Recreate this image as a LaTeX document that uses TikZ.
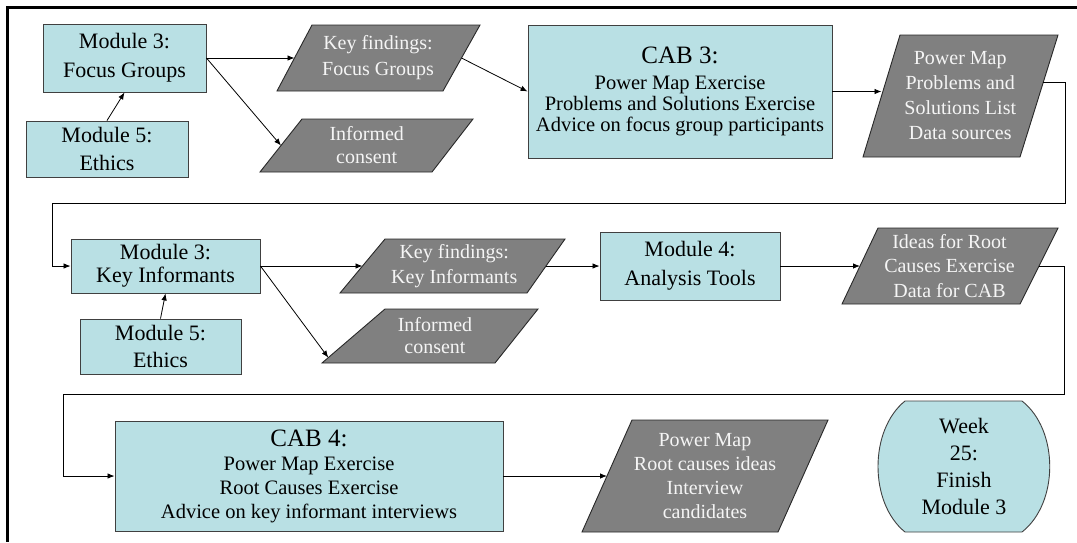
\documentclass[tikz,border=0pt]{standalone}
\usepackage{fontspec}
\setmainfont{Liberation Serif}
\usetikzlibrary{calc,arrows.meta}

\definecolor{boxfill}{RGB}{185,224,228}
\definecolor{boxline}{RGB}{64,64,64}
\definecolor{datafill}{RGB}{128,128,128}
\definecolor{dataline}{RGB}{40,40,40}
\definecolor{datatext}{RGB}{245,245,245}

\tikzset{
  boxlook/.style={draw=boxline, fill=boxfill, line width=0.9pt},
  module/.style={boxlook, inner sep=0pt, align=center, text=black},
  modfont/.style={font=\fontsize{22}{#1}\selectfont},
  plaintext/.style={inner sep=0pt, align=center, text=black},
  datashape/.style={draw=dataline, fill=datafill, line width=0.9pt, line join=miter},
  datalabel/.style={inner sep=0pt, align=center, text=datatext,
    font=\fontsize{20}{#1}\selectfont},
  flow/.style={-{Latex[length=7pt,width=5.5pt]}, line width=0.8pt},
}

% data (parallelogram) shape: name, top-left x, top-right x, bottom-left x,
% bottom-right x, top y, bottom y, line spacing, text
\newcommand\datanode[9]{%
  \coordinate (#1-nw) at (#2,#6);
  \coordinate (#1-ne) at (#3,#6);
  \coordinate (#1-sw) at (#4,#7);
  \coordinate (#1-se) at (#5,#7);
  \draw[datashape] (#1-nw) -- (#1-ne) -- (#1-se) -- (#1-sw) -- cycle;
  \coordinate (#1-w) at ($(#1-nw)!0.5!(#1-sw)$);
  \coordinate (#1-e) at ($(#1-ne)!0.5!(#1-se)$);
  \node[datalabel=#8] (#1) at ($(#1-w)!0.5!(#1-e)$) {#9};
}

\begin{document}
\begin{tikzpicture}[x=1pt, y=-1pt]
\useasboundingbox (0,0) rectangle (1077,542);

% outer frame (top and left edges)
\draw[line width=3pt] (1077,7.5) -- (7.5,7.5) -- (7.5,542);

% ---- row 1: focus groups ----
\node[module, modfont=29, minimum width=163, minimum height=68] (m3fg)
  at (124.5,58) {Module 3:\\Focus Groups};
\node[module, modfont=27.5, minimum width=162, minimum height=56] (m5a)
  at (107,149) {Module 5:\\Ethics};
\datanode{kffg}{312}{480}{277}{443}{25}{91}{26}{Key findings:\\Focus Groups}
\datanode{ic1}{302}{473}{260}{432}{119}{172}{23}{Informed\\consent}
\node[module, minimum width=304, minimum height=133,
  font=\fontsize{20.5}{21}\selectfont] (cab3) at (680,91.5)
  {{\fontsize{25}{28}\selectfont CAB 3:}\\[4.5pt]Power Map Exercise\\
   Problems and Solutions Exercise\\Advice on focus group participants};
\datanode{pm1}{900}{1058}{863}{1020}{35}{157}{25}{Power Map\\Problems and\\Solutions List\\Data sources}

% ---- row 2: key informants ----
\node[module, modfont=23, minimum width=189, minimum height=54] (m3ki)
  at (165.5,266) {Module 3:\\Key Informants};
\node[module, modfont=27, minimum width=161, minimum height=55] (m5b)
  at (160.5,346.5) {Module 5:\\Ethics};
\datanode{kfki}{385}{565}{340}{527}{239}{293}{25}{Key findings:\\Key Informants}
\datanode{ic2}{385}{538}{322}{495}{309}{363}{22}{Informed\\consent}
\node[module, modfont=29, minimum width=180, minimum height=68] (m4)
  at (690,266) {Module 4:\\Analysis Tools};
\datanode{ideas}{878}{1058}{842}{1020}{228}{304}{24.5}{Ideas for Root\\Causes Exercise\\Data for CAB}

% ---- row 3: CAB 4 ----
\node[module, minimum width=388, minimum height=110,
  font=\fontsize{20.5}{24}\selectfont] (cab4) at (309,476)
  {{\fontsize{25}{28}\selectfont CAB 4:}\\Power Map Exercise\\
   Root Causes Exercise\\Advice on key informant interviews};
\datanode{pm2}{632}{828}{582}{778}{420}{532}{24}{Power Map\\Root causes ideas\\Interview\\candidates}

% end point: flat top and bottom, bulging sides
\draw[boxlook] (905,401) -- (1022,401)
  .. controls (1059,430) and (1059,503) .. (1022,532) -- (905,532)
  .. controls (869,503) and (869,430) .. (905,401) -- cycle;
\node[plaintext, modfont=27] (wk) at (964,466.5) {Week\\25:\\Finish\\Module 3};

% ---- connectors ----
\draw[flow] (m5a.north) -- (m3fg.south);
\draw[flow] (m3fg.east) -- (kffg-w);
\draw[flow] (m3fg.east) -- (ic1-w);
\draw[flow] (kffg-e) -- (cab3.west);
\draw[flow] (cab3.east) -- (cab3.east -| pm1-w);
\draw[flow] ($(pm1-ne)!0.39!(pm1-se)$) -| (1065,203)
  -| ($(m3ki.west)+(-18,0)$) -- (m3ki.west);

\draw[flow] (m5b.north) -- (m3ki.south);
\draw[flow] (m3ki.east) -- (kfki-w);
\draw[flow] (m3ki.east) -- ($(ic2-sw)!0.1!(ic2-nw)$);
\draw[flow] (kfki-e) -- (m4.west);
\draw[flow] (m4.east) -- (ideas-w);
\draw[flow] (ideas-e) -| (1064,394)
  -| ($(cab4.west)+(-51,0)$) -- (cab4.west);

\draw[flow] (cab4.east) -- (pm2-w);
\end{tikzpicture}
\end{document}
